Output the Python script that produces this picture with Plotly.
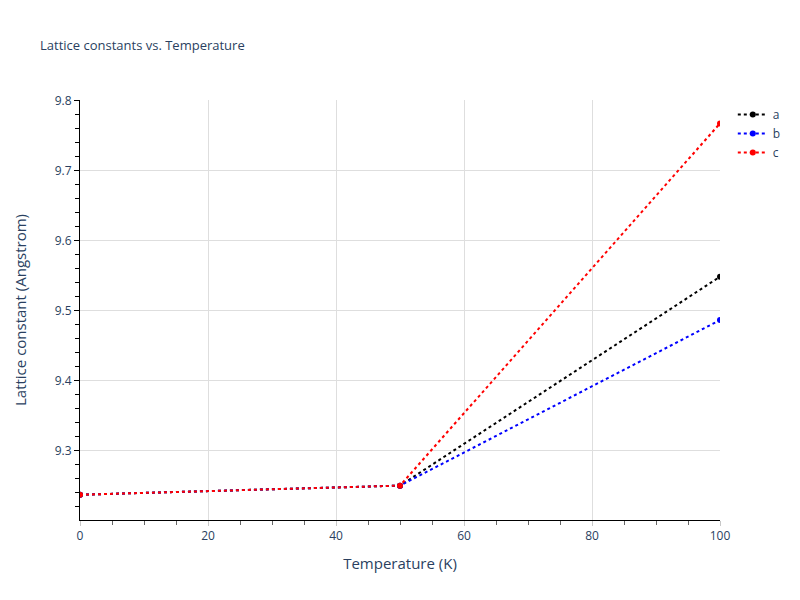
import plotly.graph_objects as go

# temperatures (K) and lattice constants (Angstrom)
temperature = [0, 50, 100]
lattice_a = [9.2375, 9.2505, 9.549]
lattice_b = [9.2375, 9.2505, 9.487]
lattice_c = [9.2375, 9.2505, 9.768]

series = [("a", lattice_a, "black"), ("b", lattice_b, "blue"), ("c", lattice_c, "red")]

fig = go.Figure()
for name, vals, col in series:
    fig.add_trace(go.Scatter(
        x=temperature, y=vals, name=name, mode="lines+markers",
        line=dict(color=col, dash="dot", width=2),
        marker=dict(color=col, size=6),
    ))

# page body has an 8px margin, so shift margins to keep the plot box at 80..720 x 100..520
fig.update_layout(
    template="simple_white",
    width=800, height=600,
    margin=dict(l=72, r=88, t=92, b=88),
    title=dict(text="Lattice constants vs. Temperature", font=dict(size=13, color="#2a3f5f"),
               x=0.04, xanchor="left", y=0.938, yanchor="middle"),
    font=dict(color="#2a3f5f"),
    legend=dict(font=dict(size=12)),
)
fig.update_xaxes(
    title_text="Temperature (K)", title_font_size=15, range=[0, 100], dtick=20,
    showgrid=True, gridcolor="#dedede", ticks="outside", tickcolor="#c8c8c8", ticklen=5,
    minor=dict(dtick=5, ticks="outside", tickcolor="#666", ticklen=4),
    linecolor="black", zeroline=False,
)
fig.update_yaxes(
    title_text="Lattice constant (Angstrom)", title_font_size=15, title_standoff=24,
    range=[9.2014, 9.8014], dtick=0.1,
    showgrid=True, gridcolor="#dedede", ticks="outside", tickcolor="black",
    minor=dict(dtick=0.02, ticks="outside", tickcolor="black", ticklen=4),
    linecolor="black", zeroline=False,
)

fig.write_html("out.html")
